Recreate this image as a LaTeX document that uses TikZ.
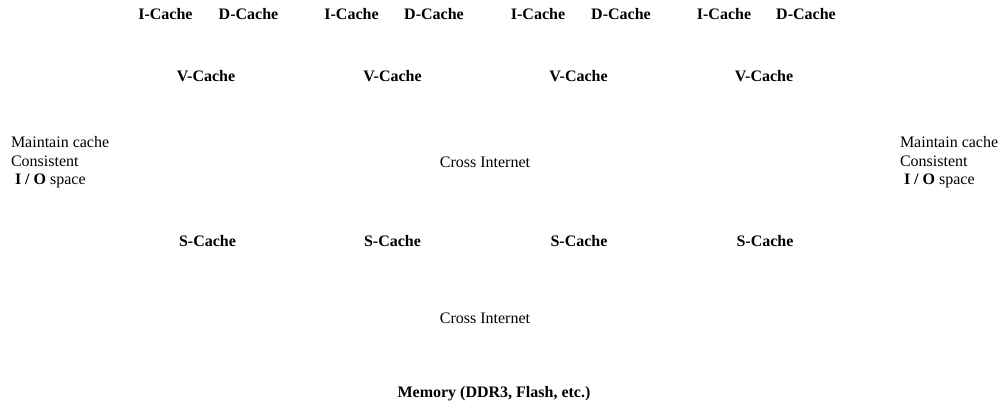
\documentclass[tikz,border=0pt]{standalone}
\usepackage{fontspec}
\setmainfont{Liberation Serif}
\begin{document}
\begin{tikzpicture}[x=1pt,y=-1pt,
  every node/.style={inner sep=0pt,outer sep=0pt,font=\fontsize{16}{18}\selectfont},
  cachebox/.style={font=\fontsize{16}{18}\selectfont\bfseries},
  plainlabel/.style={font=\fontsize{16}{18}\selectfont},
  sidenote/.style={font=\fontsize{16}{18.5}\selectfont,align=left,anchor=north west}]
\useasboundingbox (0,0) rectangle (999,410);
% row 1
\node[cachebox] (i1) at (165.5,14) {I-Cache};
\node[cachebox] (d1) at (248.5,14) {D-Cache};
\node[cachebox] (i2) at (351.5,14) {I-Cache};
\node[cachebox] (d2) at (434,14) {D-Cache};
\node[cachebox] (i3) at (538,14) {I-Cache};
\node[cachebox] (d3) at (621,14) {D-Cache};
\node[cachebox] (i4) at (724,14) {I-Cache};
\node[cachebox] (d4) at (806,14) {D-Cache};
% row 2
\node[cachebox] (v1) at (206,76) {V-Cache};
\node[cachebox] (v2) at (392.5,76) {V-Cache};
\node[cachebox] (v3) at (578.5,76) {V-Cache};
\node[cachebox] (v4) at (764,76) {V-Cache};
% interconnect 1
\node[plainlabel] (x1) at (485,162) {Cross Internet};
% side notes
\node[sidenote] (ln) at (11,136.5) {Maintain cache\\Consistent\\\hspace{4pt}\textbf{I / O} space};
\node[sidenote] (rn) at (900,136.5) {Maintain cache\\Consistent\\\hspace{4pt}\textbf{I / O} space};
% row S
\node[cachebox] (s1) at (207.5,241) {S-Cache};
\node[cachebox] (s2) at (392.5,241) {S-Cache};
\node[cachebox] (s3) at (579,241) {S-Cache};
\node[cachebox] (s4) at (765,241) {S-Cache};
% interconnect 2
\node[plainlabel] (x2) at (485,318) {Cross Internet};
% memory
\node[cachebox] (mem) at (494,394) {Memory (DDR3, Flash, etc.)};
\end{tikzpicture}
\end{document}
